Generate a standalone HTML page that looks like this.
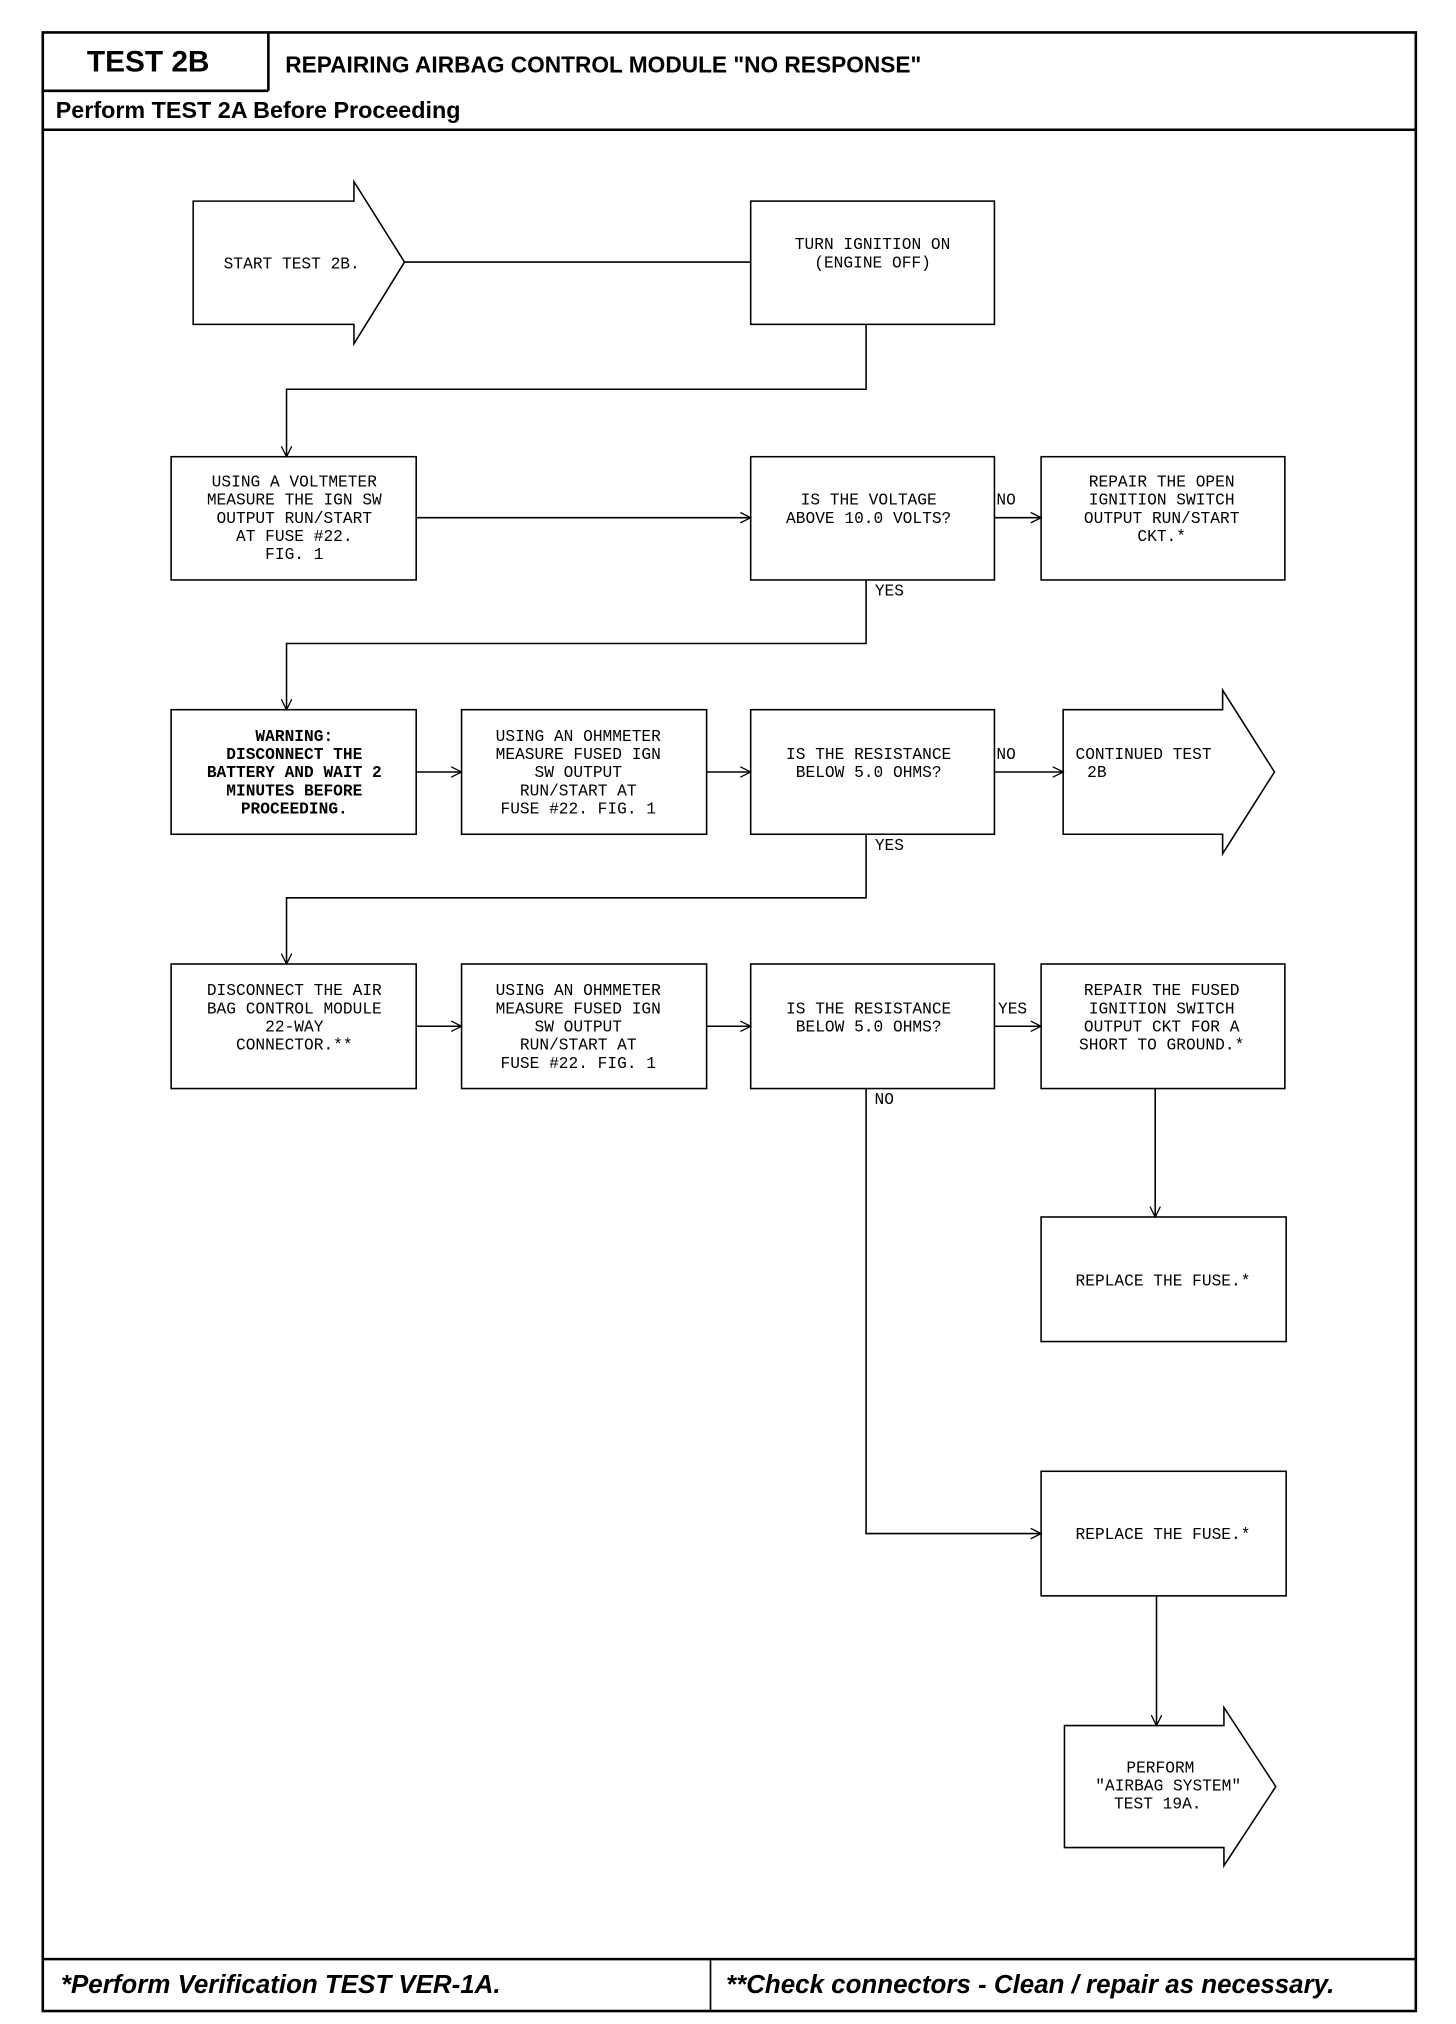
<!DOCTYPE html>
<html><head><meta charset="utf-8"><style>
html,body{margin:0;padding:0;background:#fff;}
svg{display:block;}
.t{font-family:"Liberation Mono",monospace;font-size:12.5px;text-anchor:middle;fill:#000;}
.b{font-weight:bold;}
.h{font-family:"Liberation Sans",sans-serif;font-weight:bold;fill:#000;}
</style></head><body>
<svg width="1456" height="2024" viewBox="0 0 1123 1560" preserveAspectRatio="none" xmlns="http://www.w3.org/2000/svg">
<defs><marker id="a" markerWidth="10" markerHeight="10" refX="9" refY="5" orient="auto" markerUnits="userSpaceOnUse"><path d="M1,1 L9,5 L1,9" fill="none" stroke="#000" stroke-width="1"/></marker></defs>
<g fill="none" stroke="#000">
<rect x="33" y="25" width="1059" height="1525" stroke-width="2"/>
<line x1="33" y1="70" x2="207" y2="70" stroke-width="2"/>
<line x1="207" y1="25" x2="207" y2="70" stroke-width="2"/>
<line x1="33" y1="100" x2="1092" y2="100" stroke-width="2"/>
<line x1="33" y1="1510" x2="1092" y2="1510" stroke-width="2"/>
<line x1="548" y1="1510" x2="548" y2="1550" stroke-width="1.3"/>
<g stroke-width="1.2">
<polygon points="149,155 273,155 273,140 312,202 273,265 273,250 149,250"/>
<line x1="312" y1="202" x2="579" y2="202"/>
<rect x="579" y="155" width="188" height="95"/>
<polyline points="668,250 668,300 221,300 221,352" marker-end="url(#a)"/>
<rect x="132" y="352" width="189" height="95"/>
<line x1="321" y1="399" x2="579" y2="399" marker-end="url(#a)"/>
<rect x="579" y="352" width="188" height="95"/>
<line x1="767" y1="399" x2="803" y2="399" marker-end="url(#a)"/>
<rect x="803" y="352" width="188" height="95"/>
<polyline points="668,447 668,496 221,496 221,547" marker-end="url(#a)"/>
<rect x="132" y="547" width="189" height="96"/>
<line x1="321" y1="595" x2="356" y2="595" marker-end="url(#a)"/>
<rect x="356" y="547" width="189" height="96"/>
<line x1="545" y1="595" x2="579" y2="595" marker-end="url(#a)"/>
<rect x="579" y="547" width="188" height="96"/>
<line x1="767" y1="595" x2="820" y2="595" marker-end="url(#a)"/>
<polygon points="820,547 943,547 943,532 983,595 943,658 943,643 820,643"/>
<polyline points="668,643 668,692 221,692 221,743" marker-end="url(#a)"/>
<rect x="132" y="743" width="189" height="96"/>
<line x1="321" y1="791" x2="356" y2="791" marker-end="url(#a)"/>
<rect x="356" y="743" width="189" height="96"/>
<line x1="545" y1="791" x2="579" y2="791" marker-end="url(#a)"/>
<rect x="579" y="743" width="188" height="96"/>
<line x1="767" y1="791" x2="803" y2="791" marker-end="url(#a)"/>
<rect x="803" y="743" width="188" height="96"/>
<line x1="891" y1="839" x2="891" y2="938" marker-end="url(#a)"/>
<rect x="803" y="938" width="189" height="96"/>
<polyline points="668,839 668,1182 803,1182" marker-end="url(#a)"/>
<rect x="803" y="1134" width="189" height="96"/>
<line x1="892" y1="1230" x2="892" y2="1330" marker-end="url(#a)"/>
<polygon points="821,1330 944,1330 944,1316 984,1377 944,1438 944,1424 821,1424"/>
</g></g>
<text class="h" x="67" y="55" font-size="23">TEST 2B</text>
<text class="h" x="220" y="56" font-size="17.5">REPAIRING AIRBAG CONTROL MODULE "NO RESPONSE"</text>
<text class="h" x="43" y="91" font-size="18">Perform TEST 2A Before Proceeding</text>
<text class="h" x="47" y="1536" font-size="20" font-style="italic">*Perform Verification TEST VER-1A.</text>
<text class="h" x="560" y="1536" font-size="20" font-style="italic">**Check connectors - Clean / repair as necessary.</text>
<g class="t">
<text x="225" y="207">START TEST 2B.</text>
<text x="673" y="192">TURN IGNITION ON</text><text x="673" y="206">(ENGINE OFF)</text>
<text x="227" y="375">USING A VOLTMETER</text><text x="227" y="389">MEASURE THE IGN SW</text><text x="227" y="403">OUTPUT RUN/START</text><text x="227" y="417">AT FUSE #22.</text><text x="227" y="431">FIG. 1</text>
<text x="670" y="389">IS THE VOLTAGE</text><text x="670" y="403">ABOVE 10.0 VOLTS?</text>
<text x="776" y="389">NO</text>
<text x="896" y="375">REPAIR THE OPEN</text><text x="896" y="389">IGNITION SWITCH</text><text x="896" y="403">OUTPUT RUN/START</text><text x="896" y="417">CKT.*</text>
<text x="686" y="459">YES</text>
<g class="b"><text x="227" y="571">WARNING:</text><text x="227" y="585">DISCONNECT THE</text><text x="227" y="599">BATTERY AND WAIT 2</text><text x="227" y="613">MINUTES BEFORE</text><text x="227" y="627">PROCEEDING.</text></g>
<text x="446" y="571">USING AN OHMMETER</text><text x="446" y="585">MEASURE FUSED IGN</text><text x="446" y="599">SW OUTPUT</text><text x="446" y="613">RUN/START AT</text><text x="446" y="627">FUSE #22. FIG. 1</text>
<text x="670" y="585">IS THE RESISTANCE</text><text x="670" y="599">BELOW 5.0 OHMS?</text>
<text x="776" y="585">NO</text>
<text x="882" y="585">CONTINUED TEST</text><text x="846" y="599">2B</text>
<text x="686" y="655">YES</text>
<text x="227" y="767">DISCONNECT THE AIR</text><text x="227" y="781">BAG CONTROL MODULE</text><text x="227" y="795">22-WAY</text><text x="227" y="809">CONNECTOR.**</text>
<text x="446" y="767">USING AN OHMMETER</text><text x="446" y="781">MEASURE FUSED IGN</text><text x="446" y="795">SW OUTPUT</text><text x="446" y="809">RUN/START AT</text><text x="446" y="823">FUSE #22. FIG. 1</text>
<text x="670" y="781">IS THE RESISTANCE</text><text x="670" y="795">BELOW 5.0 OHMS?</text>
<text x="781" y="781">YES</text>
<text x="896" y="767">REPAIR THE FUSED</text><text x="896" y="781">IGNITION SWITCH</text><text x="896" y="795">OUTPUT CKT FOR A</text><text x="896" y="809">SHORT TO GROUND.*</text>
<text x="682" y="851">NO</text>
<text x="897" y="991">REPLACE THE FUSE.*</text>
<text x="897" y="1186">REPLACE THE FUSE.*</text>
<text x="895" y="1366">PERFORM</text><text x="901" y="1380">"AIRBAG SYSTEM"</text><text x="893" y="1394">TEST 19A.</text>
</g>
</svg>
</body></html>
